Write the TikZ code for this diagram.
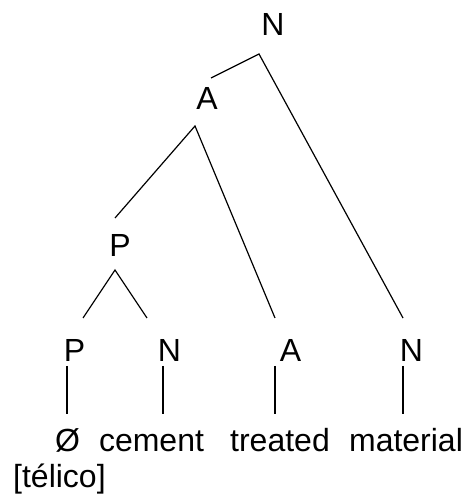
\documentclass[tikz,border=0pt]{standalone}
\usepackage{fontspec}
\setmainfont{Liberation Sans}
\begin{document}
\begin{tikzpicture}[x=1pt,y=1pt,
  lab/.style={inner sep=0pt,anchor=base,font=\fontsize{32}{38}\selectfont},
  branch/.style={line width=1.2pt,line cap=butt}]
\useasboundingbox (0,0) rectangle (473,495);

% category labels
\node[lab] (Ntop) at (273,459) {N};
\node[lab] (Amid) at (207,385) {A};
\node[lab] (Pmid) at (120,238) {P};
\node[lab] (Pb)   at (74.5,133) {P};
\node[lab] (Nb)   at (169.5,133) {N};
\node[lab] (Ab)   at (290.5,133) {A};
\node[lab] (Nr)   at (411.5,133) {N};

% words
\node[lab] (w1) at (67.5,43) {Ø};
\node[lab] (w2) at (151.5,43) {cement};
\node[lab] (w3) at (280,43) {treated};
\node[lab] (w4) at (406,43) {material};
\node[lab,anchor=base west] (w1g) at (13,7) {[télico]};

% branch points
\coordinate (Ntop-j) at (259,441);
\coordinate (Amid-in) at (211,417);
\coordinate (Nr-in) at (403,177);
\coordinate (Amid-j) at (195,369);
\coordinate (Pmid-in) at (115,277);
\coordinate (Ab-in) at (275,177);
\coordinate (Pmid-j) at (115,225);
\coordinate (Pb-in) at (83,177);
\coordinate (Nb-in) at (147,177);

% tree branches
\draw[branch] (Amid-in) -- (Ntop-j) -- (Nr-in);
\draw[branch] (Pmid-in) -- (Amid-j) -- (Ab-in);
\draw[branch] (Pb-in) -- (Pmid-j) -- (Nb-in);

% lexical stems
\foreach \x/\n in {67/Pb,163/Nb,275/Ab,403/Nr}{
  \draw[branch] (\x,129) coordinate (\n-s1) -- (\x,81) coordinate (\n-s2);
}
\end{tikzpicture}
\end{document}
